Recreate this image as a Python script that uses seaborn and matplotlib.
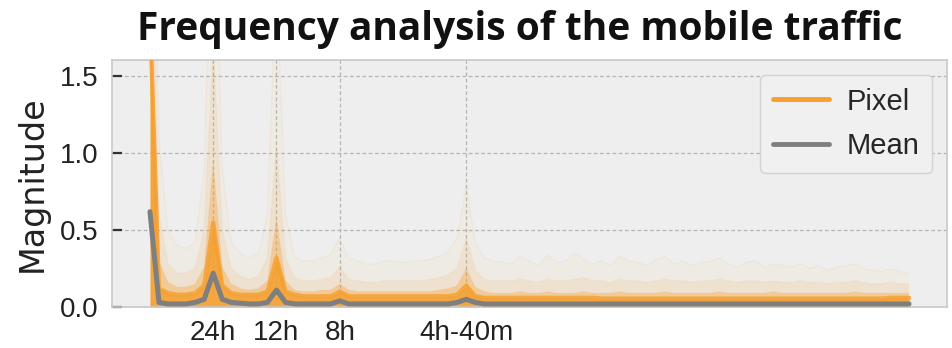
import numpy as np
import pandas as pd
import matplotlib
matplotlib.use("Agg")
import matplotlib.pyplot as plt
from matplotlib.lines import Line2D
import seaborn as sns

# Spectrum bins (hourly series over one week -> 85 rFFT bins)
freq_bin = np.arange(85)

tick_bins = [7, 14, 21, 35]
tick_labels = ["24h", "12h", "8h", "4h-40m"]

# Mean magnitude over all pixels
mean_mag = [
    0.62, 0.03, 0.02, 0.02, 0.02, 0.03, 0.05, 0.22, 0.05, 0.03,
    0.025, 0.02, 0.02, 0.03, 0.11, 0.03, 0.02, 0.02, 0.02, 0.02,
    0.02, 0.04, 0.02, 0.02, 0.02, 0.02, 0.02, 0.02, 0.02, 0.02,
    0.02, 0.02, 0.02, 0.02, 0.03, 0.05, 0.03, 0.02, 0.02, 0.02,
    0.02, 0.02, 0.02, 0.02, 0.02, 0.02, 0.02, 0.02, 0.02, 0.02,
    0.02, 0.02, 0.02, 0.02, 0.02, 0.02, 0.02, 0.02, 0.02, 0.02,
    0.02, 0.02, 0.02, 0.02, 0.02, 0.02, 0.02, 0.02, 0.02, 0.02,
    0.02, 0.02, 0.02, 0.02, 0.02, 0.02, 0.02, 0.02, 0.02, 0.02,
    0.02, 0.02, 0.02, 0.02, 0.02,
]

# Per-pixel magnitude spread: median, 90th, 99th percentile and maximum
pixel_q50 = [
    1.90, 0.12, 0.09, 0.08, 0.08, 0.09, 0.14, 0.55, 0.14, 0.09,
    0.08, 0.08, 0.08, 0.10, 0.32, 0.10, 0.08, 0.07, 0.07, 0.07,
    0.07, 0.10, 0.07, 0.07, 0.07, 0.07, 0.07, 0.07, 0.07, 0.07,
    0.07, 0.07, 0.07, 0.07, 0.08, 0.14, 0.07, 0.06, 0.06, 0.06,
    0.06, 0.06, 0.06, 0.06, 0.06, 0.06, 0.06, 0.06, 0.06, 0.06,
    0.055, 0.055, 0.055, 0.055, 0.055, 0.055, 0.055, 0.055, 0.055, 0.055,
    0.055, 0.055, 0.055, 0.055, 0.055, 0.055, 0.055, 0.055, 0.055, 0.055,
    0.055, 0.055, 0.055, 0.055, 0.055, 0.055, 0.055, 0.055, 0.055, 0.055,
    0.055, 0.055, 0.06, 0.06, 0.06,
]
pixel_q90 = [
    2.40, 0.30, 0.16, 0.13, 0.13, 0.15, 0.26, 0.95, 0.26, 0.15,
    0.12, 0.11, 0.12, 0.17, 0.58, 0.17, 0.11, 0.10, 0.10, 0.11,
    0.11, 0.15, 0.11, 0.10, 0.10, 0.10, 0.10, 0.10, 0.10, 0.10,
    0.10, 0.10, 0.11, 0.12, 0.14, 0.25, 0.13, 0.10, 0.09, 0.09,
    0.09, 0.10, 0.09, 0.09, 0.10, 0.09, 0.09, 0.09, 0.10, 0.09,
    0.09, 0.09, 0.10, 0.09, 0.09, 0.09, 0.09, 0.10, 0.09, 0.09,
    0.09, 0.09, 0.09, 0.10, 0.09, 0.09, 0.09, 0.09, 0.09, 0.10,
    0.09, 0.09, 0.09, 0.09, 0.09, 0.09, 0.09, 0.09, 0.10, 0.09,
    0.09, 0.09, 0.09, 0.09, 0.09,
]
pixel_q99 = [
    3.00, 0.60, 0.28, 0.22, 0.22, 0.25, 0.50, 1.70, 0.50, 0.25,
    0.20, 0.18, 0.20, 0.32, 1.05, 0.32, 0.19, 0.17, 0.17, 0.18,
    0.19, 0.26, 0.18, 0.17, 0.16, 0.16, 0.17, 0.17, 0.17, 0.17,
    0.17, 0.18, 0.19, 0.21, 0.25, 0.45, 0.24, 0.18, 0.17, 0.17,
    0.17, 0.18, 0.17, 0.16, 0.18, 0.17, 0.17, 0.18, 0.19, 0.17,
    0.17, 0.16, 0.18, 0.17, 0.17, 0.16, 0.17, 0.18, 0.17, 0.17,
    0.16, 0.17, 0.17, 0.18, 0.17, 0.16, 0.17, 0.17, 0.16, 0.17,
    0.16, 0.16, 0.17, 0.16, 0.16, 0.15, 0.16, 0.16, 0.17, 0.16,
    0.15, 0.15, 0.16, 0.15, 0.15,
]
pixel_max = [
    4.00, 1.10, 0.50, 0.40, 0.38, 0.42, 0.90, 3.00, 0.90, 0.42,
    0.35, 0.32, 0.35, 0.60, 2.20, 0.60, 0.33, 0.30, 0.30, 0.32,
    0.34, 0.45, 0.32, 0.30, 0.28, 0.28, 0.30, 0.30, 0.29, 0.30,
    0.30, 0.31, 0.33, 0.36, 0.45, 0.80, 0.42, 0.32, 0.30, 0.29,
    0.28, 0.33, 0.30, 0.27, 0.34, 0.29, 0.30, 0.35, 0.31, 0.28,
    0.30, 0.27, 0.33, 0.30, 0.29, 0.27, 0.31, 0.33, 0.28, 0.30,
    0.27, 0.29, 0.30, 0.32, 0.28, 0.26, 0.29, 0.30, 0.26, 0.28,
    0.27, 0.26, 0.28, 0.25, 0.27, 0.24, 0.26, 0.27, 0.28, 0.25,
    0.24, 0.23, 0.25, 0.23, 0.22,
]

ORANGE = "#f5a031"
GREY = "#7f7f7f"
TICKFONT = ["Liberation Sans", "DejaVu Sans"]

sns.set_theme(style="darkgrid")
plt.rcParams["font.family"] = ["DejaVu Sans"]

fig = plt.figure(figsize=(9.53, 3.48), dpi=100)
ax = fig.add_axes([112 / 953, 1 - 307 / 348, 835 / 953, 247 / 348])
ax.set_facecolor("#eeeeee")

# Shaded spread of the per-pixel spectra, densest near the bottom
layers = [
    (np.zeros(85), pixel_q50, 0.92),
    (pixel_q50, pixel_q90, 0.45),
    (pixel_q90, pixel_q99, 0.16),
    (pixel_q99, pixel_max, 0.05),
]
for lo, hi, a in layers:
    ax.fill_between(freq_bin, lo, hi, color=ORANGE, alpha=a, linewidth=0, zorder=2)

pix = pd.DataFrame({
    "bin": np.tile(freq_bin, 3),
    "mag": np.concatenate([pixel_q90, pixel_q99, pixel_max]),
    "curve": np.repeat(["q90", "q99", "max"], 85),
})
sns.lineplot(data=pix, x="bin", y="mag", units="curve", estimator=None,
             color=ORANGE, alpha=0.07, linewidth=1.0, legend=False, ax=ax, zorder=3)
sns.lineplot(x=freq_bin, y=pixel_q50, color=ORANGE, alpha=0.85, linewidth=3.0,
             ax=ax, zorder=3)

sns.lineplot(x=freq_bin, y=mean_mag, color=GREY, linewidth=3.6, ax=ax, zorder=4)

ax.set_xlim(-4.2, 88.2)
ax.set_ylim(0, 1.607)
ax.set_xticks(tick_bins)
ax.set_xticklabels(tick_labels, fontfamily=TICKFONT, fontsize=20)
ax.set_yticks([0.0, 0.5, 1.0, 1.5])
ax.set_yticklabels(["0.0", "0.5", "1.0", "1.5"], fontfamily=TICKFONT, fontsize=20)
ax.tick_params(axis="y", direction="in", length=7, width=1.6, colors="#333333",
               labelcolor="#222222", pad=10, left=True)
ax.tick_params(axis="x", length=0, pad=9, labelcolor="#222222")
ax.set_xlabel("")
ax.set_ylabel("Magnitude", fontsize=24, color="#222222", labelpad=8)

ax.grid(True, color="#b5b5b5", linestyle=(0, (3, 2)), linewidth=0.9)
for s in ax.spines.values():
    s.set_visible(True)
    s.set_color("#c8c8c8")
    s.set_linewidth(1.2)

handles = [Line2D([], [], color=ORANGE, lw=3.5), Line2D([], [], color=GREY, lw=3.5)]
leg = ax.legend(handles, ["Pixel", "Mean"], loc="upper right",
                prop={"family": TICKFONT, "size": 21}, frameon=True, fancybox=True,
                facecolor="#f0f0f0", edgecolor="#d2d2d2", framealpha=1,
                handlelength=1.9, handletextpad=0.6, borderaxespad=0.5,
                labelspacing=0.55, borderpad=0.45)

fig.text(0.545, 1 - 40 / 348, "Frequency analysis of the mobile traffic",
         ha="center", va="baseline", fontsize=28, fontweight="bold",
         fontfamily=["Open Sans", "DejaVu Sans"], color="#111111")

fig.savefig("out.png", dpi=100, facecolor="white")
